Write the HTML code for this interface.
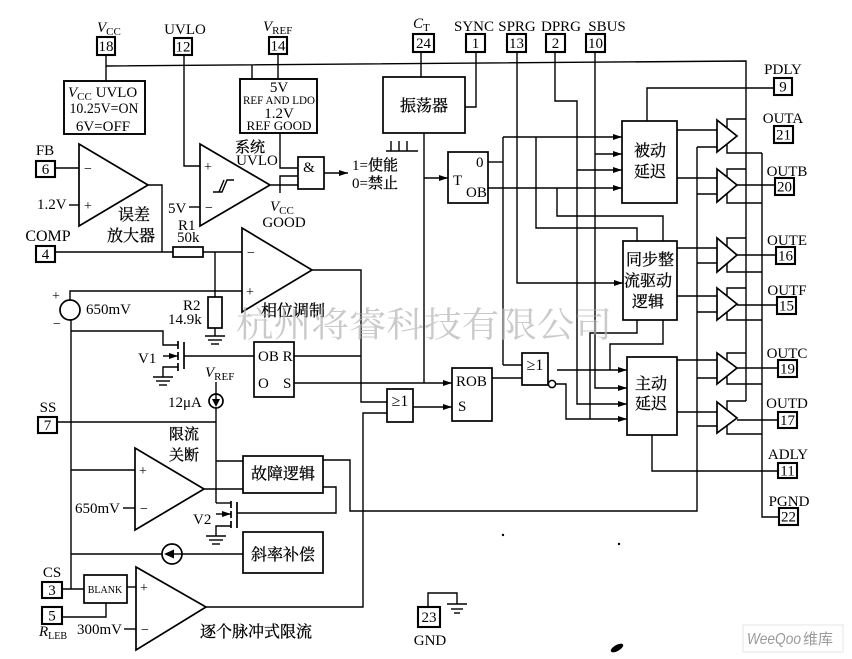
<!DOCTYPE html>
<html><head><meta charset="utf-8"><style>
html,body{margin:0;padding:0;background:#fff;}
svg{display:block;}
text{font-family:"Liberation Serif","Noto Serif CJK SC",serif;}
.cn{font-family:"Liberation Serif","Noto Serif CJK SC",serif;font-size:16px;}
</style></head><body>
<svg width="852" height="659" viewBox="0 0 852 659" xmlns="http://www.w3.org/2000/svg">
<defs>
<marker id="a" markerWidth="9" markerHeight="7" refX="9" refY="3.5" orient="auto" markerUnits="userSpaceOnUse"><path d="M0,0.5 L9,3.5 L0,6.5 z" fill="#000"/></marker>
</defs>
<rect width="852" height="659" fill="#fff"/>
<g stroke="#000" stroke-width="1.4" fill="none">
<polyline points="106,66 746,61 746,401"/>
<line x1="106" y1="55" x2="106" y2="81"/>
<rect x="64" y="81" width="81" height="53" stroke-width="1.9"/>
<line x1="252" y1="65" x2="252" y2="79"/>
<line x1="278" y1="54" x2="278" y2="79"/>
<rect x="240" y="79" width="77" height="54" stroke-width="1.9"/>
<polyline points="280,133 280,168 298,168"/>
<polyline points="184,55 184,166 200,166"/>
<polygon points="200,144 200,226 270,185" stroke-width="1.7"/>
<line x1="189" y1="207" x2="200" y2="207"/>
<polyline points="213,192 222,192 227,180 234,180"/>
<line x1="219" y1="192" x2="224" y2="180"/>
<line x1="270" y1="185" x2="298" y2="185"/>
<polyline points="298,176 280,176 280,193"/>
<rect x="298" y="157" width="26" height="32" stroke-width="1.7"/>
<line x1="324" y1="173" x2="348" y2="173" marker-end="url(#a)"/>
<polygon points="79,144 79,226 148,185" stroke-width="1.7"/>
<line x1="55" y1="168" x2="79" y2="168"/>
<line x1="69" y1="205" x2="79" y2="205"/>
<polyline points="148,185 162,185 162,252"/>
<line x1="55" y1="252" x2="173" y2="252"/>
<rect x="173" y="247" width="30" height="10" stroke-width="1.7"/>
<line x1="203" y1="252" x2="242" y2="252"/>
<line x1="215" y1="252" x2="215" y2="297"/>
<rect x="208" y="297" width="14" height="31" stroke-width="1.7"/>
<line x1="215" y1="328" x2="215" y2="336"/>
<line x1="205" y1="336" x2="225" y2="336"/><line x1="208" y1="340" x2="222" y2="340"/><line x1="211" y1="344" x2="219" y2="344"/>
<polygon points="242,228 242,312 312,270" stroke-width="1.7"/>
<polyline points="312,270 361,270 361,402 387,402"/>
<polyline points="70,300 70,291 242,291"/>
<circle cx="70" cy="310" r="10" stroke-width="1.7"/>
<line x1="71" y1="320" x2="71" y2="589"/>
<polyline points="71,331 163,331 163,345 178,345"/>
<line x1="184" y1="342" x2="184" y2="369" stroke-width="1.7"/>
<line x1="178" y1="341" x2="178" y2="349" stroke-width="1.7"/><line x1="178" y1="352" x2="178" y2="360" stroke-width="1.7"/><line x1="178" y1="363" x2="178" y2="371" stroke-width="1.7"/>
<line x1="163" y1="356" x2="178" y2="356" marker-end="url(#a)"/>
<polyline points="178,367 163,367 163,377"/>
<line x1="153" y1="377" x2="173" y2="377"/><line x1="156" y1="381" x2="170" y2="381"/><line x1="159" y1="385" x2="167" y2="385"/>
<line x1="184" y1="356" x2="254" y2="356"/>
<rect x="254" y="342" width="40" height="55" stroke-width="1.7"/>
<line x1="294" y1="356" x2="361" y2="356"/>
<line x1="294" y1="383" x2="452" y2="383" marker-end="url(#a)"/>
<rect x="383" y="77" width="82" height="56" stroke-width="1.7"/>
<line x1="421" y1="52" x2="421" y2="77"/>
<polyline points="476,52 476,107 465,107"/>
<line x1="386" y1="151" x2="418" y2="151"/>
<line x1="391" y1="141" x2="391" y2="151"/><line x1="399" y1="141" x2="399" y2="151"/><line x1="407" y1="141" x2="407" y2="151"/>
<line x1="424" y1="133" x2="424" y2="383"/>
<line x1="424" y1="178" x2="448" y2="178" marker-end="url(#a)"/>
<rect x="448" y="152" width="40" height="51" stroke-width="1.7"/>
<line x1="488" y1="162" x2="503" y2="162"/>
<line x1="503" y1="137" x2="503" y2="365"/>
<line x1="503" y1="137" x2="622" y2="137" marker-end="url(#a)"/>
<polyline points="536,137 536,228 637,228 637,241"/>
<line x1="488" y1="188" x2="622" y2="188" marker-end="url(#a)"/>
<polyline points="557,188 557,216 663,216 663,241"/>
<polyline points="517,52 517,283 623,283" marker-end="url(#a)"/>
<polyline points="555,52 555,101 577,101 577,404 627,404" marker-end="url(#a)"/>
<line x1="577" y1="170" x2="622" y2="170" marker-end="url(#a)"/>
<polyline points="595,52 595,388 627,388" marker-end="url(#a)"/>
<line x1="595" y1="154" x2="622" y2="154" marker-end="url(#a)"/>
<rect x="387" y="389" width="26" height="33" stroke-width="1.7"/>
<line x1="413" y1="407" x2="452" y2="407" marker-end="url(#a)"/>
<rect x="452" y="368" width="40" height="53" stroke-width="1.7"/>
<line x1="492" y1="378" x2="522" y2="378"/>
<line x1="503" y1="365" x2="522" y2="365"/>
<rect x="522" y="353" width="26" height="32" stroke-width="1.7"/>
<circle cx="552" cy="384" r="3.6" stroke-width="1.5"/>
<line x1="557" y1="370" x2="627" y2="370" marker-end="url(#a)"/>
<polyline points="556,384 566,384 566,419 627,419" marker-end="url(#a)"/>
<rect x="622" y="121" width="55" height="82" stroke-width="1.7"/>
<polyline points="647,121 647,88 774,88"/>
<line x1="677" y1="130" x2="717" y2="130"/>
<line x1="677" y1="178" x2="717" y2="178"/>
<rect x="623" y="241" width="54" height="79" stroke-width="1.7"/>
<line x1="677" y1="248" x2="717" y2="248"/>
<line x1="677" y1="296" x2="717" y2="296"/>
<polyline points="637,320 637,333 590,333 590,419"/>
<polyline points="663,320 663,344 610,344 610,370"/>
<rect x="627" y="357" width="50" height="78" stroke-width="1.7"/>
<line x1="677" y1="360" x2="717" y2="360"/>
<line x1="677" y1="412" x2="717" y2="412"/>
<polyline points="652,435 652,471 778,471"/>
<polyline points="697,147 697,511 350,511 350,460 323,460"/>
<line x1="697" y1="147" x2="717" y2="147"/>
<line x1="697" y1="194" x2="717" y2="194"/>
<line x1="697" y1="263" x2="717" y2="263"/>
<line x1="697" y1="312" x2="717" y2="312"/>
<line x1="697" y1="378" x2="717" y2="378"/>
<line x1="697" y1="426" x2="717" y2="426"/>
<polyline points="762,153 762,517 779,517"/>
<g stroke-width="1.7">
<polygon points="717,120 717,152 737,136"/>
<polygon points="717,169 717,202 737,185"/>
<polygon points="717,238 717,272 737,255"/>
<polygon points="717,288 717,320 737,304"/>
<polygon points="717,353 717,384 737,368"/>
<polygon points="717,402 717,433 737,418"/>
</g>
<polyline points="727,128 727,119 746,119"/><polyline points="727,144 727,153 762,153"/>
<polyline points="727,177 727,169 746,169"/><polyline points="727,194 727,203 762,203"/>
<polyline points="727,246 727,238 746,238"/><polyline points="727,264 727,272 762,272"/>
<polyline points="727,296 727,288 746,288"/><polyline points="727,312 727,320 762,320"/>
<polyline points="727,361 727,353 746,353"/><polyline points="727,376 727,384 762,384"/>
<polyline points="727,410 727,401 746,401"/><polyline points="727,426 727,434 762,434"/>
<line x1="737" y1="185" x2="775" y2="185"/>
<line x1="737" y1="255" x2="776" y2="255"/>
<line x1="737" y1="305" x2="777" y2="305"/>
<line x1="737" y1="368" x2="778" y2="368"/>
<line x1="737" y1="420" x2="778" y2="420"/>
<line x1="57" y1="422" x2="216" y2="422"/>
<line x1="216" y1="382" x2="216" y2="394"/>
<circle cx="216" cy="401" r="7" stroke-width="1.7"/>
<line x1="216" y1="394" x2="216" y2="400"/>
<line x1="216" y1="408" x2="216" y2="503"/>
<line x1="216" y1="461" x2="243" y2="461"/>
<polygon points="135,448 135,530 204,489" stroke-width="1.7"/>
<line x1="71" y1="470" x2="135" y2="470"/>
<line x1="123" y1="508" x2="135" y2="508"/>
<line x1="204" y1="489" x2="243" y2="489"/>
<rect x="243" y="456" width="80" height="37" stroke-width="1.7"/>
<polyline points="323,487 336,487 336,513 237,513"/>
<line x1="237" y1="502" x2="237" y2="528" stroke-width="1.7"/>
<line x1="231" y1="501" x2="231" y2="508" stroke-width="1.7"/><line x1="231" y1="511" x2="231" y2="518" stroke-width="1.7"/><line x1="231" y1="521" x2="231" y2="528" stroke-width="1.7"/>
<line x1="216" y1="503" x2="231" y2="503"/>
<line x1="216" y1="514" x2="231" y2="514" marker-end="url(#a)"/>
<polyline points="231,526 216,526 216,536"/>
<line x1="206" y1="536" x2="226" y2="536"/><line x1="209" y1="540" x2="223" y2="540"/><line x1="212" y1="544" x2="220" y2="544"/>
<rect x="243" y="532" width="80" height="41" stroke-width="1.7"/>
<line x1="243" y1="554" x2="182" y2="554"/>
<circle cx="172" cy="554" r="10" stroke-width="1.7"/>
<line x1="172" y1="554" x2="182" y2="554"/>
<line x1="162" y1="554" x2="71" y2="554"/>
<line x1="62" y1="589" x2="84" y2="589"/>
<rect x="84" y="575" width="43" height="28" stroke-width="1.7"/>
<polyline points="62,617 106,617 106,603"/>
<polygon points="136,567 136,650 206,607" stroke-width="1.7"/>
<line x1="127" y1="587" x2="136" y2="587"/>
<line x1="124" y1="629" x2="136" y2="629"/>
<polyline points="206,607 363,607 363,413 387,413"/>
<polyline points="428,607 428,593 457,593 457,604"/>
<line x1="447" y1="604" x2="467" y2="604"/><line x1="451" y1="609" x2="463" y2="609"/><line x1="454" y1="613" x2="460" y2="613"/>
</g>
<polygon points="212,399 220,399 216,407" fill="#000"/>
<polygon points="164,554 174,549.5 174,558.5" fill="#000"/>
<g fill="none" stroke="#000" stroke-width="2.1">
<rect x="97" y="37" width="18" height="18"/>
<rect x="174" y="38" width="18" height="17"/>
<rect x="269" y="37" width="18" height="17"/>
<rect x="413" y="34" width="21" height="18"/>
<rect x="466" y="34" width="19" height="18"/>
<rect x="507" y="34" width="19" height="18"/>
<rect x="546" y="34" width="19" height="18"/>
<rect x="586" y="34" width="19" height="18"/>
<rect x="774" y="78" width="18" height="17"/>
<rect x="774" y="126" width="19" height="17"/>
<rect x="775" y="178" width="19" height="17"/>
<rect x="776" y="247" width="19" height="17"/>
<rect x="777" y="297" width="19" height="17"/>
<rect x="778" y="360" width="19" height="17"/>
<rect x="778" y="412" width="19" height="16"/>
<rect x="778" y="463" width="19" height="15"/>
<rect x="779" y="508" width="19" height="17"/>
<rect x="36" y="161" width="19" height="16"/>
<rect x="36" y="246" width="19" height="16"/>
<rect x="38" y="417" width="19" height="16"/>
<rect x="42" y="582" width="20" height="16"/>
<rect x="42" y="607" width="20" height="17"/>
<rect x="418" y="607" width="22" height="20"/>
</g>
<g font-size="15" fill="#000" text-anchor="middle">
<text x="106" y="51">18</text>
<text x="183" y="51.5">12</text>
<text x="278" y="50.5">14</text>
<text x="423.5" y="48">24</text>
<text x="475.5" y="48">1</text>
<text x="516.5" y="48">13</text>
<text x="555.5" y="48">2</text>
<text x="595.5" y="48">10</text>
<text x="783" y="91.5">9</text>
<text x="783.5" y="139.5">21</text>
<text x="784.5" y="191.5">20</text>
<text x="785.5" y="260.5">16</text>
<text x="786.5" y="310.5">15</text>
<text x="787.5" y="373.5">19</text>
<text x="787.5" y="425">17</text>
<text x="787.5" y="475.5">11</text>
<text x="788.5" y="521.5">22</text>
<text x="45.5" y="174">6</text>
<text x="45.5" y="259">4</text>
<text x="47.5" y="430">7</text>
<text x="52" y="595">3</text>
<text x="52" y="620.5">5</text>
<text x="429" y="622">23</text>
<text x="185" y="34">UVLO</text>
<text x="474" y="31">SYNC</text>
<text x="517" y="31">SPRG</text>
<text x="561" y="31">DPRG</text>
<text x="607" y="31">SBUS</text>
<text x="783" y="74">PDLY</text>
<text x="783" y="123">OUTA</text>
<text x="787" y="176">OUTB</text>
<text x="787" y="245">OUTE</text>
<text x="787" y="295">OUTF</text>
<text x="787" y="358">OUTC</text>
<text x="787" y="408">OUTD</text>
<text x="788" y="459">ADLY</text>
<text x="789" y="506">PGND</text>
<text x="45" y="155">FB</text>
<text x="48" y="241" font-size="16">COMP</text>
<text x="48" y="412">SS</text>
<text x="52" y="577">CS</text>
<text x="430" y="645">GND</text>
<text x="104" y="113" textLength="69" lengthAdjust="spacingAndGlyphs">10.25V=ON</text>
<text x="103" y="131">6V=OFF</text>
<text x="279" y="92">5V</text>
<text x="279" y="104" font-size="11.5" textLength="72" lengthAdjust="spacingAndGlyphs">REF AND LDO</text>
<text x="279" y="118">1.2V</text>
<text x="279" y="130" font-size="13" textLength="65" lengthAdjust="spacingAndGlyphs">REF GOOD</text>
<text x="309" y="172">&amp;</text>
<text x="257" y="165">UVLO</text>
<text x="284" y="227">GOOD</text>
<text x="105" y="593" font-size="10">BLANK</text>
<text x="400" y="406" font-size="16">≥1</text>
<text x="535" y="370" font-size="16">≥1</text>
</g>
<g font-size="15" fill="#000">
<text x="97" y="32"><tspan font-style="italic">V</tspan><tspan font-size="11" dy="3">CC</tspan></text>
<text x="263" y="31"><tspan font-style="italic">V</tspan><tspan font-size="11" dy="3">REF</tspan></text>
<text x="413" y="28"><tspan font-style="italic">C</tspan><tspan font-size="11" dy="3">T</tspan></text>
<text x="68" y="97"><tspan font-style="italic">V</tspan><tspan font-size="11" dy="3">CC</tspan><tspan dy="-3"> UVLO</tspan></text>
<text x="270" y="211"><tspan font-style="italic">V</tspan><tspan font-size="11" dy="3">CC</tspan></text>
<text x="205" y="377"><tspan font-style="italic">V</tspan><tspan font-size="11" dy="3">REF</tspan></text>
<text x="39" y="636"><tspan font-style="italic">R</tspan><tspan font-size="10" dy="3">LEB</tspan></text>
<text x="37" y="209">1.2V</text>
<text x="168" y="213">5V</text>
<text x="178" y="230">R1</text>
<text x="177" y="242">50k</text>
<text x="183" y="310">R2</text>
<text x="168" y="324">14.9k</text>
<text x="86" y="314">650mV</text>
<text x="52" y="300" font-size="14">+</text>
<text x="53" y="328" font-size="14">−</text>
<text x="138" y="363">V1</text>
<text x="193" y="524">V2</text>
<text x="168" y="407">12μA</text>
<text x="75" y="513">650mV</text>
<text x="77" y="634">300mV</text>
<text x="258" y="361">OB R</text>
<text x="258" y="388">O</text>
<text x="283" y="388">S</text>
<text x="456" y="386">ROB</text>
<text x="458" y="411">S</text>
<text x="453" y="185">T</text>
<text x="476" y="167">0</text>
<text x="466" y="197">OB</text>
<text x="352" y="170">1=<tspan font-family="'Noto Serif CJK SC',serif" stroke="#000" stroke-width="0.3">使能</tspan></text>
<text x="352" y="188">0=<tspan font-family="'Noto Serif CJK SC',serif" stroke="#000" stroke-width="0.3">禁止</tspan></text>
<text x="84" y="173" font-size="14">−</text>
<text x="84" y="210" font-size="14">+</text>
<text x="204" y="171" font-size="14">+</text>
<text x="205" y="212" font-size="14">−</text>
<text x="247" y="257" font-size="14">−</text>
<text x="246" y="296" font-size="14">+</text>
<text x="139" y="475" font-size="14">+</text>
<text x="140" y="513" font-size="14">−</text>
<text x="140" y="592" font-size="14">+</text>
<text x="141" y="634" font-size="14">−</text>
</g>
<g class="cn" fill="#000" stroke="#000" stroke-width="0.3" text-anchor="middle">
<text x="250" y="152" font-size="15">系统</text>
<text x="134" y="220">误差</text>
<text x="131" y="241">放大器</text>
<text x="293" y="316">相位调制</text>
<text x="184" y="439" font-size="15">限流</text>
<text x="184" y="460" font-size="15">关断</text>
<text x="283" y="479">故障逻辑</text>
<text x="283" y="560">斜率补偿</text>
<text x="256" y="637">逐个脉冲式限流</text>
<text x="424" y="111">振荡器</text>
<text x="650" y="156">被动</text>
<text x="650" y="177">延迟</text>
<text x="650" y="265">同步整</text>
<text x="648" y="286">流驱动</text>
<text x="648" y="307">逻辑</text>
<text x="651" y="389">主动</text>
<text x="651" y="409">延迟</text>
</g>
<text x="236" y="337" font-size="35" fill="#b4b4b4" fill-opacity="0.7" textLength="376" lengthAdjust="spacingAndGlyphs" style="font-family:'Noto Serif CJK SC',serif">杭州将睿科技有限公司</text>
<rect x="743" y="625" width="100" height="27" fill="#fff" stroke="#e4e4e4" stroke-width="1"/>
<text x="747" y="644" font-size="16" font-style="italic" fill="#9a9a9a" textLength="54" lengthAdjust="spacingAndGlyphs" style="font-family:'Liberation Sans',sans-serif">WeeQoo</text>
<text x="803" y="644" font-size="15" fill="#9a9a9a" style="font-family:'Liberation Sans','Noto Sans CJK SC',sans-serif">维库</text>
<ellipse cx="617" cy="648" rx="7" ry="3" transform="rotate(-30 617 648)" fill="#000"/>
<circle cx="503" cy="535" r="1.2" fill="#000"/>
<circle cx="619" cy="544" r="1.2" fill="#000"/>
</svg>
</body></html>
